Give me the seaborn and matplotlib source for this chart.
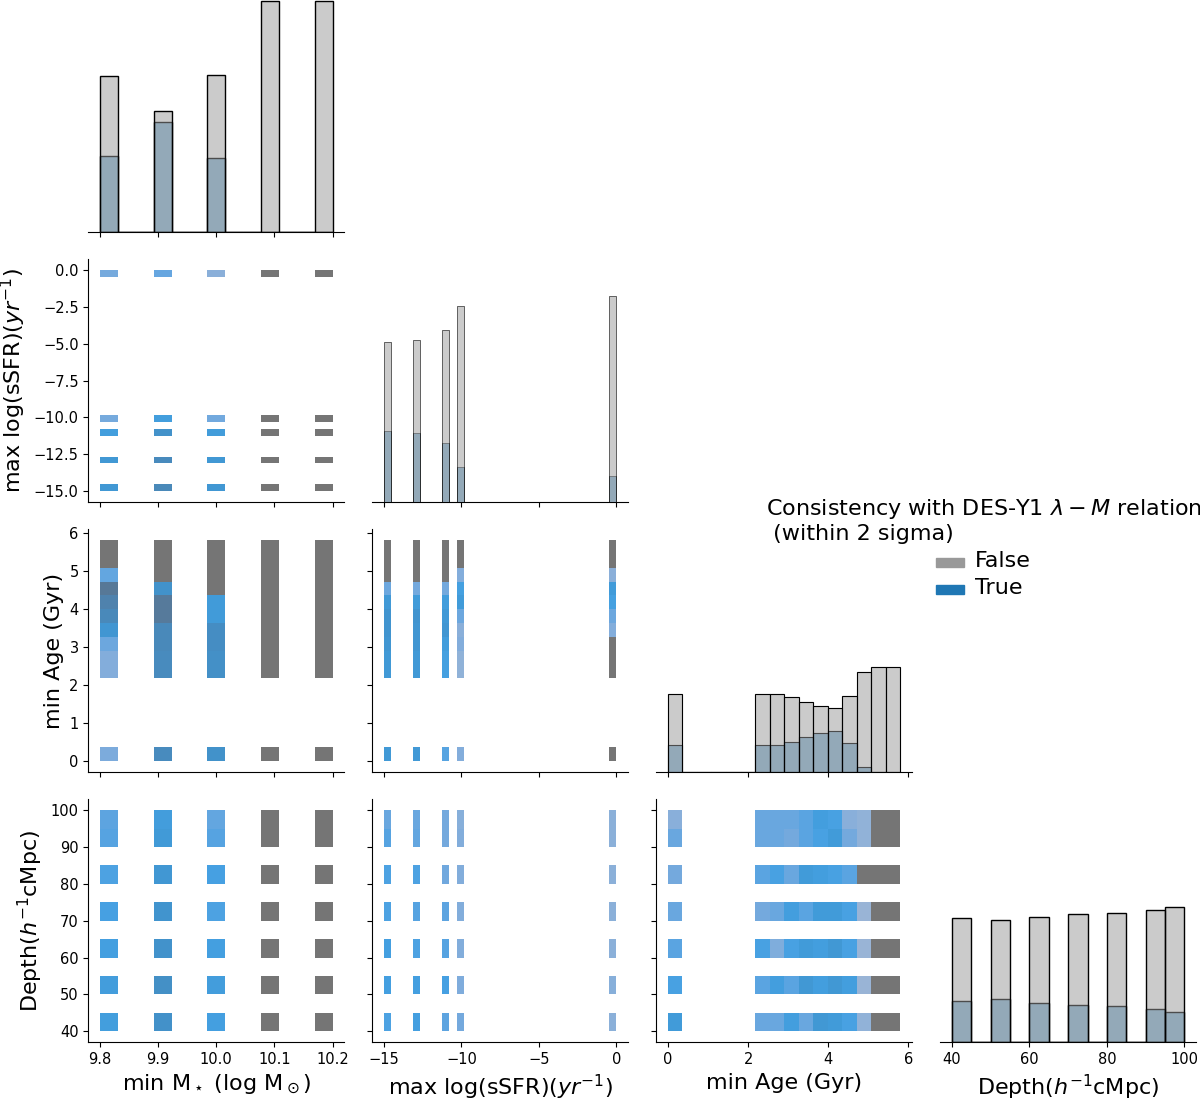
import numpy as np
import pandas as pd
import matplotlib
matplotlib.use('Agg')
import matplotlib.pyplot as plt
import seaborn as sns

# grid of selection parameters
masses = [9.8, 9.9, 10.0, 10.1, 10.2]
ssfrs = [-15, -13, -11, -10, 0]
ages = [0.0, 2.2, 2.6, 3.0, 3.4, 3.8, 4.2, 4.6, 5.0, 5.4, 5.8]
depths = [40, 50, 60, 70, 80, 90, 100]

# how many of the 7 depths are consistent, rows = ssfrs, cols = ages
n_true_98 = [
    [2, 2, 2, 3, 5, 7, 7, 6, 0, 0, 0],
    [2, 2, 2, 3, 5, 7, 7, 6, 0, 0, 0],
    [1, 1, 1, 2, 5, 6, 7, 5, 0, 0, 0],
    [1, 0, 0, 0, 0, 1, 2, 6, 5, 0, 0],
    [0, 0, 0, 0, 1, 1, 2, 7, 4, 0, 0],
]
n_true_99 = [
    [7, 7, 7, 7, 6, 7, 6, 2, 0, 0, 0],
    [7, 7, 7, 7, 6, 7, 5, 1, 0, 0, 0],
    [5, 5, 5, 5, 6, 7, 5, 2, 0, 0, 0],
    [2, 2, 2, 3, 2, 4, 7, 6, 0, 0, 0],
    [0, 0, 0, 0, 2, 4, 6, 7, 0, 0, 0],
]
n_true_100 = [
    [6, 6, 6, 6, 6, 3, 2, 0, 0, 0, 0],
    [6, 6, 6, 6, 5, 3, 2, 0, 0, 0, 0],
    [4, 6, 6, 6, 5, 2, 1, 0, 0, 0, 0],
    [2, 1, 1, 2, 2, 3, 5, 0, 0, 0, 0],
    [0, 0, 0, 0, 2, 3, 4, 0, 0, 0, 0],
]
n_true = {9.8: n_true_98, 9.9: n_true_99, 10.0: n_true_100}  # 10.1, 10.2 never consistent

# relative share of consistent runs per depth
depth_weight = np.array([69, 73, 67, 63, 60, 55, 50], dtype=float)

col_m = r'min M$_\star$ (log M$_\odot$)'
col_s = r'max log(sSFR)$(yr^{-1})$'
col_a = 'min Age (Gyr)'
col_d = r'Depth($h^{-1}$cMpc)'
col_h = 'Consistency with DES-Y1 $\\lambda-M$ relation\n (within 2 sigma)'

rows = []
filled = np.zeros(len(depths))
for m in masses:
    for i, s in enumerate(ssfrs):
        for j, a in enumerate(ages):
            k = n_true[m][i][j] if m in n_true else 0
            order = np.argsort(filled / depth_weight, kind='stable')
            chosen = set(order[:k].tolist())
            for idx in chosen:
                filled[idx] += 1
            for d_idx, d in enumerate(depths):
                rows.append((m, s, a, d, d_idx in chosen))

df = pd.DataFrame(rows, columns=[col_m, col_s, col_a, col_d, col_h])

plt.rcParams['xtick.labelsize'] = 10.5
plt.rcParams['ytick.labelsize'] = 10.5
plt.rcParams['axes.labelsize'] = 16

palette = {False: '#999999', True: '#1f77b4'}
g = sns.pairplot(df, vars=[col_m, col_s, col_a, col_d], hue=col_h,
                 hue_order=[False, True], palette=palette,
                 kind='hist', diag_kind='hist', corner=True,
                 plot_kws={'alpha': 0.8})

g.figure.set_size_inches(12, 11)
g.figure.subplots_adjust(left=0.0736, right=0.9967, bottom=0.0525, top=1.01,
                         wspace=0.11, hspace=0.111)

sns.move_legend(g, 'center right', bbox_to_anchor=(1.012, 0.502))
leg = g.legend
leg.get_title().set_fontsize(16)
for t in leg.get_texts():
    t.set_fontsize(16)

g.figure.savefig('out.png', dpi=100)
